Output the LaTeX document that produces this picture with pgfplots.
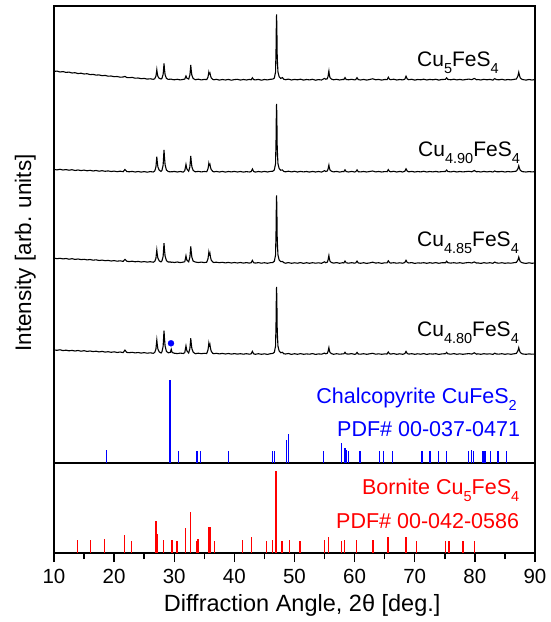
\documentclass[border=0pt]{standalone}
\usepackage{fontspec}
\setmainfont{Liberation Sans}
\usepackage{pgfplots}
\usepackage{pgfplotstable}
\pgfplotsset{compat=1.18}
\definecolor{pblue}{RGB}{0,0,255}
\definecolor{pred}{RGB}{255,0,0}
\newcommand{\sub}[1]{\raisebox{-0.33em}{\fontsize{14.5}{15}\selectfont#1}}
\pgfplotstableread{
x t1 t2 t3 t4
10.0 8.6 2.6 5.2 4.4
10.5 8.9 2.1 4.6 4.0
11.0 8.0 2.7 5.0 4.5
11.5 8.4 2.0 4.4 3.7
12.0 7.6 2.4 4.8 4.1
12.5 7.9 1.8 4.1 3.5
13.0 7.0 2.3 4.6 3.9
13.5 7.3 1.5 3.9 3.3
14.0 6.4 2.0 4.3 3.8
14.5 6.8 1.4 3.7 3.1
15.0 6.0 1.9 4.0 3.6
15.5 6.3 1.2 3.4 2.9
16.0 5.4 1.7 3.8 3.3
16.5 5.6 1.0 3.1 2.7
17.0 4.9 1.5 3.5 3.1
17.5 5.1 0.8 2.8 2.4
18.0 4.3 1.3 3.2 2.9
18.5 4.6 0.7 2.6 2.2
19.0 3.8 1.1 2.9 2.6
19.5 4.0 0.5 2.3 2.0
20.0 3.3 0.9 2.7 2.5
20.5 3.5 0.3 2.1 1.8
21.0 2.8 0.8 2.5 2.3
21.5 3.0 0.3 1.9 1.7
21.8 3.6 2.5 3.9 4.2
22.1 2.5 0.5 2.1 1.9
22.5 2.3 0.2 1.7 1.6
23.0 2.6 0.6 2.1 2.0
23.5 1.8 0.0 1.5 1.4
24.0 2.0 0.5 1.9 1.8
24.5 1.3 -0.1 1.3 1.2
25.0 1.6 0.4 1.7 1.7
25.5 0.9 -0.2 1.2 1.1
26.0 1.2 0.4 1.6 1.5
26.5 0.7 0.0 1.1 1.0
26.75 1.2 1.0 1.9 1.8
26.95 3.6 4.8 4.9 5.1
27.05 7.9 12.0 10.5 11.3
27.1 10.3 15.3 13.2 14.2
27.16 7.4 11.0 9.8 10.5
27.28 3.6 5.0 5.1 5.3
27.5 1.6 1.8 2.4 2.4
27.8 1.0 0.6 1.4 1.3
27.95 1.6 1.6 2.3 2.3
28.15 5.6 6.8 6.9 8.0
28.25 12.6 17.2 16.0 18.6
28.3 16.6 22.0 20.1 23.6
28.36 11.7 15.9 14.8 17.2
28.48 5.2 7.2 7.1 8.2
28.7 1.6 2.0 2.7 2.9
29.0 0.6 0.5 1.2 1.5
29.35 0.8 0.1 1.4 1.9
29.5 0.9 0.4 0.9 5.0
29.65 0.5 0.2 1.2 1.8
30.0 0.2 0.6 0.8 1.1
30.5 0.7 0.0 1.3 0.7
31.0 0.1 0.5 0.7 1.2
31.5 0.6 -0.1 1.2 0.8
31.75 0.9 1.3 1.6 1.7
31.95 4.0 7.6 7.5 8.4
32.1 1.8 3.0 3.2 3.5
32.4 0.9 0.8 1.4 1.3
32.6 4.9 5.2 6.1 5.7
32.7 11.3 12.6 13.5 12.7
32.75 15.0 16.0 17.0 16.0
32.81 10.6 11.6 12.5 11.8
32.93 4.7 5.3 6.1 5.8
33.15 1.5 1.5 2.2 2.1
33.5 0.3 0.2 1.3 0.6
34.0 0.8 0.6 0.8 1.1
34.5 0.1 0.1 1.2 0.6
35.0 0.6 0.5 0.7 1.0
35.4 0.4 0.3 1.1 0.8
35.6 2.6 2.9 4.2 4.1
35.7 5.8 6.4 8.3 8.1
35.75 7.8 8.6 10.9 10.8
35.82 6.0 6.6 8.4 8.2
35.9 5.9 6.3 8.0 7.8
35.95 6.6 7.2 9.4 9.2
36.02 4.5 4.9 6.4 6.3
36.15 2.2 2.4 3.3 3.1
36.4 0.6 0.7 1.3 1.0
36.6 0.2 0.1 0.8 0.6
37.0 0.7 0.6 1.1 1.0
37.5 -0.1 0.0 0.6 0.4
38.0 0.5 0.6 1.0 0.9
38.5 0.0 -0.1 0.4 0.3
39.0 0.6 0.5 0.9 0.8
39.5 -0.2 0.1 0.3 0.2
40.0 0.4 0.6 0.8 0.7
40.5 0.7 0.0 0.3 0.2
41.0 -0.1 0.5 0.8 0.6
41.5 0.5 -0.1 0.2 0.1
42.0 0.0 0.4 0.7 0.6
42.5 0.6 0.0 0.2 0.1
42.8 0.2 0.4 0.6 0.5
43.0 2.2 3.0 2.9 2.9
43.2 0.4 0.5 0.6 0.5
43.5 0.1 -0.1 0.2 0.0
44.0 0.6 0.5 0.7 0.6
44.5 -0.2 0.0 0.1 0.0
45.0 0.5 0.6 0.6 0.5
45.5 0.1 0.0 0.0 -0.1
46.0 0.7 0.6 0.6 0.6
46.4 0.9 0.8 0.8 0.9
46.65 2.0 2.1 2.1 2.0
46.85 8.0 8.4 8.3 8.3
46.93 30.0 31.0 31.0 31.0
46.98 55.0 57.0 57.0 56.5
47.02 65.5 68.2 68.0 67.5
47.07 50.0 52.0 52.0 51.5
47.13 22.0 23.0 23.0 23.0
47.25 8.0 8.3 8.3 8.2
47.45 3.2 3.4 3.3 3.3
47.7 1.6 1.8 1.7 1.6
48.0 2.4 2.0 1.8 2.0
48.2 0.8 0.6 0.7 0.6
48.5 0.3 0.2 0.1 0.3
49.0 0.9 0.8 0.7 0.8
49.5 0.0 0.1 0.0 -0.1
50.0 0.6 0.7 0.5 0.6
50.5 0.2 0.0 0.1 0.0
51.0 0.8 0.6 0.7 0.7
51.5 -0.1 0.1 -0.1 0.0
52.0 0.5 0.5 0.6 0.4
52.5 0.1 -0.1 0.0 0.1
53.0 0.7 0.6 0.6 0.7
53.5 -0.2 0.0 0.1 -0.1
54.0 0.4 0.5 0.5 0.4
54.5 0.0 -0.1 0.0 0.1
55.0 1.6 1.3 1.5 1.2
55.2 0.8 0.5 0.6 0.5
55.45 1.2 1.0 1.1 1.0
55.6 4.0 3.2 3.6 3.1
55.67 7.4 5.8 6.5 5.7
55.72 9.0 7.0 7.8 6.8
55.78 6.0 4.8 5.3 4.7
55.9 2.4 2.0 2.2 1.9
56.15 0.9 0.8 0.8 0.7
56.5 0.2 0.1 0.2 0.0
57.0 0.7 0.6 0.7 0.6
57.5 0.0 -0.1 0.0 0.1
58.0 0.5 0.5 0.6 0.4
58.2 0.4 0.3 0.3 0.4
58.4 2.4 2.2 2.3 2.0
58.6 0.5 0.4 0.5 0.4
59.0 0.2 0.0 0.1 0.2
59.5 0.7 0.6 0.6 0.7
60.0 0.1 0.0 0.1 -0.1
60.2 0.5 0.4 0.5 0.3
60.4 2.3 2.1 2.2 1.9
60.6 0.4 0.3 0.4 0.3
61.0 0.0 0.1 0.0 0.1
61.5 0.6 0.5 0.6 0.6
62.0 -0.1 0.0 -0.1 0.0
62.5 0.5 0.5 0.4 0.5
63.0 1.2 1.0 1.1 1.0
63.5 0.2 0.1 0.2 0.1
64.0 0.6 0.5 0.6 0.5
64.5 -0.1 0.0 -0.1 0.0
65.0 0.5 0.4 0.5 0.4
65.4 0.4 0.3 0.4 0.3
65.6 2.8 2.4 2.5 2.3
65.8 0.8 0.6 0.7 0.6
66.0 0.3 0.2 0.2 0.2
66.5 0.8 0.7 0.6 0.7
67.0 0.0 0.0 0.1 0.0
67.5 0.5 0.6 0.5 0.5
68.0 0.1 0.0 0.1 0.0
68.35 0.8 0.7 0.8 0.7
68.55 3.8 3.2 3.0 2.9
68.75 1.0 0.9 0.9 0.8
69.0 0.3 0.2 0.3 0.2
69.5 0.7 0.6 0.7 0.6
70.0 -0.1 0.0 -0.1 0.0
70.5 0.5 0.5 0.4 0.5
71.0 0.2 0.1 0.2 0.1
71.5 0.8 0.7 0.6 0.7
72.0 0.0 0.0 0.0 -0.1
72.5 0.6 0.5 0.6 0.5
73.0 0.2 0.1 0.1 0.2
73.5 0.7 0.6 0.7 0.6
74.0 -0.1 0.0 0.0 -0.1
74.5 0.5 0.4 0.5 0.4
75.1 0.6 0.5 0.5 0.6
75.3 2.2 2.0 2.1 1.9
75.5 0.6 0.5 0.6 0.5
76.0 0.2 0.1 0.2 0.1
76.5 0.8 0.7 0.6 0.7
77.0 0.1 0.0 0.1 0.0
77.5 0.6 0.5 0.6 0.5
78.0 0.0 0.1 0.0 0.0
78.5 0.5 0.4 0.5 0.4
79.0 0.9 0.7 0.8 0.7
79.5 0.3 0.2 0.3 0.2
79.9 1.6 1.5 1.4 1.5
80.3 0.2 0.1 0.2 0.1
80.5 0.5 0.5 0.4 0.5
81.0 0.0 0.0 -0.1 0.0
81.5 0.7 0.6 0.6 0.6
82.0 0.2 0.1 0.1 0.2
82.5 0.6 0.5 0.6 0.5
83.0 -0.1 0.0 0.0 -0.1
83.3 1.4 1.0 1.2 1.1
83.6 0.4 0.3 0.4 0.3
84.0 0.2 0.2 0.1 0.2
84.5 0.7 0.6 0.6 0.6
85.0 0.0 0.0 0.0 0.0
85.5 0.5 0.5 0.4 0.5
86.0 0.1 0.1 0.1 0.0
86.5 0.6 0.5 0.6 0.5
86.9 1.0 0.9 0.9 0.9
87.15 3.8 3.1 3.1 3.3
87.3 7.8 6.2 6.2 6.7
87.4 5.0 4.0 4.0 4.3
87.55 2.0 1.7 1.7 1.8
87.8 0.8 0.7 0.7 0.7
88.0 0.4 0.3 0.4 0.3
88.5 -0.1 0.0 -0.1 0.0
89.0 0.5 0.4 0.5 0.4
89.5 0.0 0.1 0.0 0.1
90.0 0.4 0.3 0.4 0.3
}\traces
\begin{document}
\begin{tikzpicture}
\pgfplotsset{
  every axis/.append style={
    scale only axis, width=481pt, xmin=10, xmax=90,
    axis line style={line width=1.6pt},
    ytick=\empty,
  },
}
% lower panel: bornite reference pattern
\begin{axis}[
  name=lower, at={(0pt,0pt)}, anchor=south west,
  height=90pt, ymin=0, ymax=90,
  xtick={10,20,...,90}, minor x tick num=1,
  tick align=outside, xtick pos=left,
  major tick length=9pt, minor tick length=6pt,
  every tick/.append style={line width=1.4pt, black},
  every minor tick/.append style={line width=1.4pt, black},
  tick label style={font=\fontsize{20.5}{24}\selectfont},
  xticklabel style={yshift=-4pt},
  /pgf/number format/assume math mode=true,
  xlabel={Diffraction Angle, 2θ [deg.]},
  xlabel style={font=\fontsize{23.5}{28}\selectfont, at={(axis description cs:0.516,0)}, anchor=base, yshift=-58pt},
]
\addplot[ycomb, pred, line width=1.2pt, no markers] coordinates {
(13.94,13.3) (16.10,12.7) (18.43,14.3) (21.75,17.7) (22.92,11.7)
(26.96,32) (27.24,19.3) (28.18,13.3) (29.63,12.7) (30.46,11.7)
(31.90,25.3) (32.68,41) (33.73,11.7) (33.95,14.3) (35.72,26.3)
(35.95,26.3) (36.67,11.7) (41.38,13) (42.88,15.7) (45.37,11.7)
(46.31,13) (46.92,82.3) (47.92,11.7) (49.20,13) (50.91,11.7)
(54.96,13) (55.63,16.3) (57.84,11.7) (58.34,13.3) (60.34,13.3)
(63.06,13) (65.55,15.7) (68.55,15.7) (70.32,12.3) (75.14,12.3)
(75.70,12.3) (78.03,12) (79.91,12)
};
\node[anchor=base west, inner sep=0pt, text=pred, font=\fontsize{21.5}{25}\selectfont] at (axis cs:61.2,58.7) {Bornite Cu\sub{5}FeS\sub{4}};
\node[anchor=base west, inner sep=0pt, text=pred, font=\fontsize{21.5}{25}\selectfont] at (axis cs:56.90,24.7) {PDF\# 00-042-0586};
\end{axis}
% upper panel: measured patterns and chalcopyrite reference
\begin{axis}[
  name=upper, at={(0pt,90pt)}, anchor=south west,
  height=457pt, ymin=0, ymax=457,
  xtick=\empty,
  ylabel={Intensity [arb. units]},
  ylabel style={font=\fontsize{22.5}{27}\selectfont, at={(axis description cs:-0.0478,0.4595)}, anchor=base},
]
\addplot[black, line width=1.1pt] table[x=x, y expr=\thisrow{t1}+383] {\traces};
\addplot[black, line width=1.1pt] table[x=x, y expr=\thisrow{t2}+291] {\traces};
\addplot[black, line width=1.1pt] table[x=x, y expr=\thisrow{t3}+199.7] {\traces};
\addplot[black, line width=1.1pt] table[x=x, y expr=\thisrow{t4}+108.7] {\traces};
\addplot[only marks, mark=*, pblue, mark size=3pt] coordinates {(29.46,119.7)};
\addplot[ycomb, pblue, line width=1.2pt, no markers] coordinates {
(18.76,12.5) (29.29,83) (30.73,12) (33.78,12) (34.34,12) (38.99,12)
(46.31,12) (46.65,12) (48.64,23) (49.03,29) (54.79,12) (57.84,20)
(58.40,15) (58.62,13) (58.95,12) (60.89,12) (64.11,12) (64.77,12)
(66.33,12) (71.21,12) (72.54,12) (73.92,12) (75.31,12) (78.91,12)
(79.41,13) (79.74,12) (81.35,12) (81.68,12) (82.63,12) (83.85,12)
(85.29,12)
};
\node[anchor=base west, inner sep=0pt, font=\fontsize{21}{25}\selectfont] at (axis cs:70.37,396) {Cu\sub{5}FeS\sub{4}};
\node[anchor=base west, inner sep=0pt, font=\fontsize{21}{25}\selectfont] at (axis cs:70.54,306) {Cu\sub{4.90}FeS\sub{4}};
\node[anchor=base west, inner sep=0pt, font=\fontsize{21}{25}\selectfont] at (axis cs:70.37,216) {Cu\sub{4.85}FeS\sub{4}};
\node[anchor=base west, inner sep=0pt, font=\fontsize{21}{25}\selectfont] at (axis cs:70.37,126) {Cu\sub{4.80}FeS\sub{4}};
\node[anchor=base west, inner sep=0pt, text=pblue, font=\fontsize{21.5}{25}\selectfont] at (axis cs:53.6,59.7) {Chalcopyrite CuFeS\sub{2}};
\node[anchor=base west, inner sep=0pt, text=pblue, font=\fontsize{21.5}{25}\selectfont] at (axis cs:57.07,27) {PDF\# 00-037-0471};
\end{axis}
\pgfresetboundingbox
\useasboundingbox (-54pt,-69pt) rectangle (496pt,553pt);
\end{tikzpicture}
\end{document}
